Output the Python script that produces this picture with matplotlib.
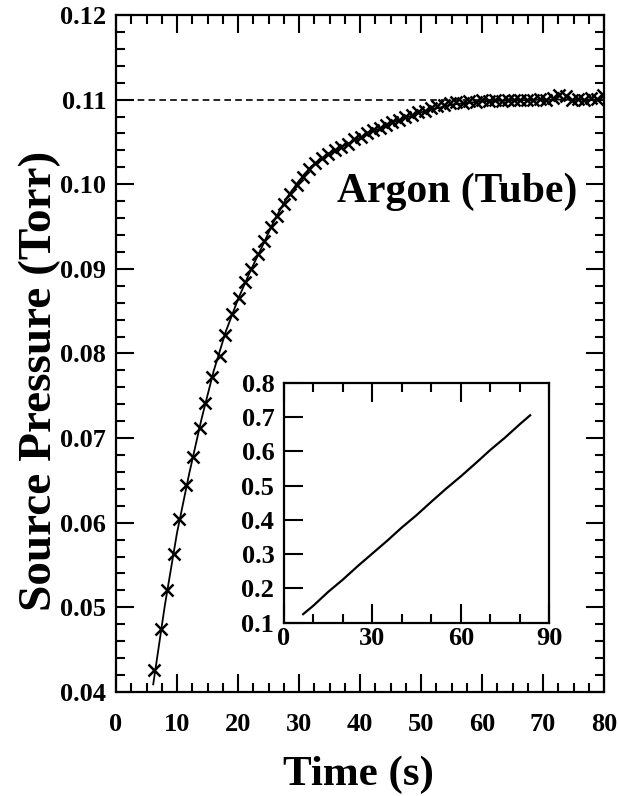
import matplotlib
matplotlib.use('Agg')
import matplotlib.pyplot as plt
from matplotlib.ticker import MultipleLocator, FormatStrFormatter

plt.rcParams['font.family'] = ['Liberation Serif', 'DejaVu Serif']
plt.rcParams['font.weight'] = 'bold'

# measured source pressure (markers)
time_s = [6.3, 7.3, 8.4, 9.5, 10.4, 11.5, 12.7, 13.8, 14.6, 15.7,
          17.0, 17.9, 19.0, 20.1, 21.2, 22.2, 23.3, 24.3, 25.4, 26.4,
          27.5, 28.5, 29.6, 30.6, 31.7, 32.7, 33.8, 34.8, 35.9, 36.9,
          38.0, 39.0, 40.1, 41.1, 42.2, 43.2, 44.3, 45.3, 46.4, 47.4,
          48.5, 49.5, 50.6, 51.6, 52.7, 53.7, 54.8, 55.8, 56.9, 57.9,
          59.0, 60.0, 61.1, 62.1, 63.2, 64.2, 65.3, 66.3, 67.4, 68.4,
          69.5, 70.5, 71.6, 72.6, 73.7, 74.7, 75.8, 76.8, 77.9, 78.9,
          79.8]
pressure = [0.0426, 0.0474, 0.0520, 0.0563, 0.0604, 0.0645, 0.0678, 0.0712, 0.0741, 0.0772,
            0.0797, 0.0822, 0.0847, 0.0865, 0.0884, 0.0900, 0.0917, 0.0933, 0.0950, 0.0963,
            0.0977, 0.0989, 0.0999, 0.1009, 0.1018, 0.1025, 0.1031, 0.1036, 0.1040, 0.1044,
            0.1048, 0.1053, 0.1056, 0.1060, 0.1064, 0.1067, 0.1070, 0.1073, 0.1076, 0.1079,
            0.1082, 0.1085, 0.1087, 0.1090, 0.1093, 0.1094, 0.1096, 0.1097, 0.1096, 0.1098,
            0.1097, 0.1099, 0.1098, 0.1099, 0.1098, 0.1099, 0.1100, 0.1099, 0.1100, 0.1099,
            0.1101, 0.1100, 0.1102, 0.1106, 0.1104, 0.1100, 0.1101, 0.1100, 0.1102, 0.1101,
            0.1105]

# fitted curve (solid line)
fit_t = [6.1, 8, 10, 12, 14, 16, 18, 20, 22, 24, 26, 28, 30, 32, 35,
         40, 45, 50, 55, 60, 65, 70, 75, 80]
fit_p = [0.0409, 0.0502, 0.0588, 0.0658, 0.0722, 0.0779, 0.0826, 0.0864, 0.0897, 0.0927,
         0.0958, 0.0984, 0.1004, 0.1021, 0.1037, 0.1055, 0.1072, 0.1085, 0.1094, 0.1098,
         0.1099, 0.1100, 0.1100, 0.1100]

p_final = 0.110

# inset
inset_t = [6.5, 10, 15, 20, 25, 30, 35, 40, 45, 50, 55, 60, 65, 70, 75, 80, 83.5]
inset_v = [0.125, 0.150, 0.190, 0.226, 0.265, 0.302, 0.339, 0.378, 0.414, 0.453,
           0.491, 0.527, 0.565, 0.604, 0.640, 0.679, 0.705]

fig = plt.figure(figsize=(6.19, 7.96), dpi=100)
ax = fig.add_axes([0.1874, 0.1307, 0.7884, 0.8505])

ax.axhline(p_final, color='black', lw=1.2, ls=(0, (4, 2.5)))
ax.plot(fit_t, fit_p, color='black', lw=1.3)
ax.plot(time_s, pressure, ls='none', marker='x', ms=8.5, mew=1.8, color='black')

ax.set_xlim(0, 80)
ax.set_ylim(0.04, 0.12)
ax.xaxis.set_major_locator(MultipleLocator(10))
ax.xaxis.set_minor_locator(MultipleLocator(2.5))
ax.yaxis.set_major_locator(MultipleLocator(0.01))
ax.yaxis.set_minor_locator(MultipleLocator(0.002))
ax.yaxis.set_major_formatter(FormatStrFormatter('%.2f'))
ax.tick_params(which='both', direction='in', top=True, right=True, width=1.5, labelsize=19)
ax.tick_params(which='major', length=13)
ax.tick_params(which='minor', length=6.5)
ax.tick_params(axis='x', pad=15)
ax.tick_params(axis='y', pad=7)
for s in ax.spines.values():
	s.set_linewidth(1.6)

ax.text(75.6, 0.0979, 'Argon (Tube)', ha='right', va='baseline', fontsize=30, fontweight='bold')

fig.text(358 / 619, 1 - 785 / 796, 'Time (s)', ha='center', va='baseline', fontsize=31, fontweight='bold')
fig.text(40 / 619, 1 - 381 / 796, 'Source Pressure (Torr)', rotation=90, ha='center', va='center',
         fontsize=34, fontweight='bold')

# inset plot
axi = fig.add_axes([0.4588, 0.2177, 0.4286, 0.3015])
axi.plot(inset_t, inset_v, color='black', lw=1.6)
axi.set_xlim(0, 90)
axi.set_ylim(0.1, 0.8)
axi.xaxis.set_major_locator(MultipleLocator(30))
axi.xaxis.set_minor_locator(MultipleLocator(10))
axi.yaxis.set_major_locator(MultipleLocator(0.1))
axi.yaxis.set_major_formatter(FormatStrFormatter('%.1f'))
axi.tick_params(which='both', direction='in', top=True, right=False, width=1.5, labelsize=19)
axi.tick_params(which='major', length=14)
axi.tick_params(which='minor', length=6.5)
axi.tick_params(axis='x', pad=3)
axi.tick_params(axis='y', pad=7)
for s in axi.spines.values():
	s.set_linewidth(1.6)

fig.savefig('out.png', dpi=100)
